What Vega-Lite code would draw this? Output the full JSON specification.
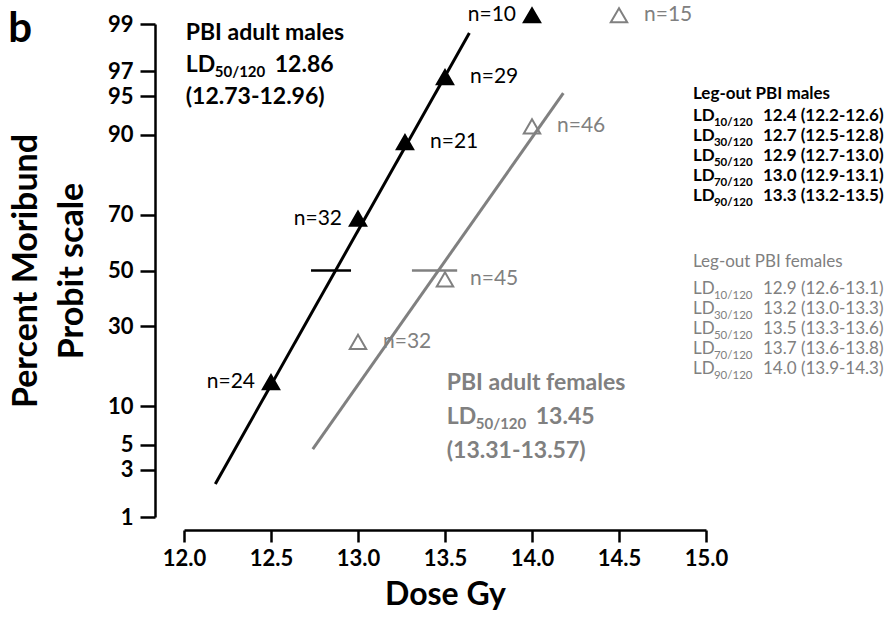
{
  "$schema": "https://vega.github.io/schema/vega-lite/v6.json",
  "width": 522,
  "height": 493,
  "autosize": {"type": "none"},
  "padding": {"left": 184, "top": 24, "right": 186, "bottom": 101},
  "background": "white",
  "config": {"view": {"stroke": null}, "font": "Lato"},
  "datasets": {
    "panel": [
      {"dose": 10.99, "pct": 98.45, "text": "b"}
    ],
    "points": [
      {"group": "male", "dose": 12.5, "pct": 14.6, "label": "n=24", "side": "left"},
      {"group": "male", "dose": 13.0, "pct": 68.75, "label": "n=32", "side": "left"},
      {"group": "male", "dose": 13.27, "pct": 88.7, "label": "n=21", "side": "right"},
      {"group": "male", "dose": 13.5, "pct": 96.6, "label": "n=29", "side": "right"},
      {"group": "male", "dose": 14.0, "pct": 99.2, "label": "n=10", "side": "left"},
      {"group": "female", "dose": 13.0, "pct": 25, "label": "n=32", "side": "right"},
      {"group": "female", "dose": 13.5, "pct": 46.7, "label": "n=45", "side": "right"},
      {"group": "female", "dose": 14.0, "pct": 91.3, "label": "n=46", "side": "right"},
      {"group": "female", "dose": 14.5, "pct": 99.2, "label": "n=15", "side": "right"}
    ],
    "fits": [
      {"group": "male", "dose": 12.18, "pct": 2.2},
      {"group": "male", "dose": 13.64, "pct": 98.75},
      {"group": "female", "dose": 12.74, "pct": 4.6},
      {"group": "female", "dose": 14.18, "pct": 95.3}
    ],
    "ci": [
      {"group": "male", "dose": 12.73, "dose2": 12.96, "pct": 50},
      {"group": "female", "dose": 13.31, "dose2": 13.57, "pct": 50}
    ],
    "plotNotes": [
      {"group": "male", "dose": 12.01, "pct": 98.52, "text": "PBI adult males"},
      {"group": "male", "dose": 12.01, "pct": 94.19, "text": "(12.73-12.96)"},
      {"group": "female", "dose": 13.51, "pct": 12.97, "text": "PBI adult females"},
      {"group": "female", "dose": 13.51, "pct": 3.84, "text": "(13.31-13.57)"}
    ],
    "plotLD": [
      {"group": "male", "dose": 12.01, "pct": 96.95, "lead": "LD", "sub": "50/120", "val": "12.86"},
      {"group": "female", "dose": 13.51, "pct": 7.37, "lead": "LD", "sub": "50/120", "val": "13.45"}
    ],
    "legendNotes": [
      {"group": "male", "dose": 14.925, "pct": 94.72, "text": "Leg-out PBI males"},
      {"group": "female", "dose": 14.925, "pct": 51.32, "text": "Leg-out PBI females"}
    ],
    "legendLD": [
      {"group": "male", "dose": 14.925, "pct": 92.09, "lead": "LD", "sub": "10/120", "val": "12.4 (12.2-12.6)"},
      {"group": "male", "dose": 14.925, "pct": 88.92, "lead": "LD", "sub": "30/120", "val": "12.7 (12.5-12.8)"},
      {"group": "male", "dose": 14.925, "pct": 84.93, "lead": "LD", "sub": "50/120", "val": "12.9 (12.7-13.0)"},
      {"group": "male", "dose": 14.925, "pct": 80.09, "lead": "LD", "sub": "70/120", "val": "13.0 (12.9-13.1)"},
      {"group": "male", "dose": 14.925, "pct": 74.41, "lead": "LD", "sub": "90/120", "val": "13.3 (13.2-13.5)"},
      {"group": "female", "dose": 14.925, "pct": 41.22, "lead": "LD", "sub": "10/120", "val": "12.9 (12.6-13.1)"},
      {"group": "female", "dose": 14.925, "pct": 34.07, "lead": "LD", "sub": "30/120", "val": "13.2 (13.0-13.3)"},
      {"group": "female", "dose": 14.925, "pct": 27.45, "lead": "LD", "sub": "50/120", "val": "13.5 (13.3-13.6)"},
      {"group": "female", "dose": 14.925, "pct": 21.53, "lead": "LD", "sub": "70/120", "val": "13.7 (13.6-13.8)"},
      {"group": "female", "dose": 14.925, "pct": 16.43, "lead": "LD", "sub": "90/120", "val": "14.0 (13.9-14.3)"}
    ]
  },
  "encoding": {
    "x": {
      "field": "dose", "type": "quantitative",
      "scale": {"domain": [12, 15], "nice": false, "zero": false},
      "axis": {
        "values": [12, 12.5, 13, 13.5, 14, 14.5, 15], "format": ".1f", "offset": 13, "grid": false,
        "tickSize": 12, "tickWidth": 2.5, "tickColor": "black", "domainWidth": 2.5, "domainColor": "black",
        "labelFont": "Lato", "labelFontSize": 22, "labelFontWeight": "bold", "labelColor": "black", "labelPadding": 6,
        "labelFlush": false, "labelOverlap": false,
        "title": "Dose Gy", "titleFont": "Lato", "titleFontSize": 32, "titleFontWeight": "bold", "titleColor": "black", "titlePadding": 10
      }
    },
    "y": {
      "field": "probit", "type": "quantitative",
      "scale": {"domain": [-2.3263479, 2.3263479], "nice": false, "zero": false},
      "axis": {
        "values": [-2.3263479, -1.8807936, -1.6448536, -1.2815516, -0.5244005, 0, 0.5244005, 1.2815516, 1.6448536, 1.8807936, 2.3263479],
        "labelExpr": "'' + round(cumulativeNormal(datum.value) * 100)",
        "offset": 29, "grid": false,
        "tickSize": 15, "tickWidth": 2.5, "tickColor": "black", "domainWidth": 2.5, "domainColor": "black",
        "labelFont": "Lato", "labelFontSize": 22, "labelFontWeight": "bold", "labelColor": "black", "labelPadding": 7,
        "labelFlush": false, "labelOverlap": false,
        "title": ["Percent Moribund", "Probit scale"], "titleFont": "Lato", "titleFontSize": 34, "titleFontWeight": "bold", "titleColor": "black", "titlePadding": 18, "titleLineHeight": 46
      }
    },
    "color": {"field": "group", "type": "nominal", "scale": {"domain": ["male", "female"], "range": ["#000000", "#808080"]}, "legend": null}
  },
  "layer": [
    {
      "data": {"name": "panel"},
      "transform": [{"calculate": "quantileNormal(datum.pct / 100)", "as": "probit"}],
      "mark": {"type": "text", "align": "left", "baseline": "alphabetic", "fontSize": 42, "fontWeight": "bold", "font": "Lato"},
      "encoding": {"text": {"field": "text"}, "color": {"value": "black"}}
    },
    {
      "data": {"name": "fits"},
      "transform": [{"calculate": "quantileNormal(datum.pct / 100)", "as": "probit"}],
      "mark": {"type": "line", "strokeWidth": 3},
      "encoding": {"detail": {"field": "group"}}
    },
    {
      "data": {"name": "ci"},
      "transform": [{"calculate": "quantileNormal(datum.pct / 100)", "as": "probit"}],
      "mark": {"type": "rule", "strokeWidth": 2.5},
      "encoding": {"x2": {"field": "dose2"}}
    },
    {
      "data": {"name": "points"},
      "transform": [{"calculate": "quantileNormal(datum.pct / 100)", "as": "probit"}],
      "mark": {"type": "point", "shape": "triangle-up", "filled": true, "size": 270, "strokeWidth": 2, "opacity": 1},
      "encoding": {
        "fill": {"field": "group", "type": "nominal", "scale": {"domain": ["male", "female"], "range": ["#000000", "transparent"]}, "legend": null},
        "stroke": {"field": "group", "type": "nominal", "scale": {"domain": ["male", "female"], "range": ["#000000", "#808080"]}, "legend": null}
      }
    },
    {
      "data": {"name": "points"},
      "transform": [{"calculate": "quantileNormal(datum.pct / 100)", "as": "probit"}, {"filter": "datum.side === 'left'"}],
      "mark": {"type": "text", "align": "right", "baseline": "middle", "dx": -16, "fontSize": 21, "font": "Lato"},
      "encoding": {"text": {"field": "label"}}
    },
    {
      "data": {"name": "points"},
      "transform": [{"calculate": "quantileNormal(datum.pct / 100)", "as": "probit"}, {"filter": "datum.side === 'right'"}],
      "mark": {"type": "text", "align": "left", "baseline": "middle", "dx": 25, "fontSize": 21, "font": "Lato"},
      "encoding": {"text": {"field": "label"}}
    },
    {
      "data": {"name": "plotNotes"},
      "transform": [{"calculate": "quantileNormal(datum.pct / 100)", "as": "probit"}],
      "mark": {"type": "text", "align": "left", "baseline": "alphabetic", "fontSize": 23, "fontWeight": "bold", "font": "Lato"},
      "encoding": {"text": {"field": "text"}}
    },
    {
      "data": {"name": "plotLD"},
      "transform": [{"calculate": "quantileNormal(datum.pct / 100)", "as": "probit"}],
      "mark": {"type": "text", "align": "left", "baseline": "alphabetic", "fontSize": 23, "fontWeight": "bold", "font": "Lato"},
      "encoding": {"text": {"field": "lead"}}
    },
    {
      "data": {"name": "plotLD"},
      "transform": [{"calculate": "quantileNormal(datum.pct / 100)", "as": "probit"}],
      "mark": {"type": "text", "align": "left", "baseline": "alphabetic", "dx": 29, "dy": 5, "fontSize": 15, "fontWeight": "bold", "font": "Lato"},
      "encoding": {"text": {"field": "sub"}}
    },
    {
      "data": {"name": "plotLD"},
      "transform": [{"calculate": "quantileNormal(datum.pct / 100)", "as": "probit"}],
      "mark": {"type": "text", "align": "left", "baseline": "alphabetic", "dx": 89, "fontSize": 23, "fontWeight": "bold", "font": "Lato"},
      "encoding": {"text": {"field": "val"}}
    },
    {
      "data": {"name": "legendNotes"},
      "transform": [{"calculate": "quantileNormal(datum.pct / 100)", "as": "probit"}],
      "mark": {"type": "text", "align": "left", "baseline": "alphabetic", "fontSize": 17, "font": "Lato", "fontWeight": {"expr": "datum.group === 'male' ? 'bold' : 'normal'"}},
      "encoding": {"text": {"field": "text"}}
    },
    {
      "data": {"name": "legendLD"},
      "transform": [{"calculate": "quantileNormal(datum.pct / 100)", "as": "probit"}],
      "mark": {"type": "text", "align": "left", "baseline": "alphabetic", "fontSize": 17, "font": "Lato", "fontWeight": {"expr": "datum.group === 'male' ? 'bold' : 'normal'"}},
      "encoding": {"text": {"field": "lead"}}
    },
    {
      "data": {"name": "legendLD"},
      "transform": [{"calculate": "quantileNormal(datum.pct / 100)", "as": "probit"}],
      "mark": {"type": "text", "align": "left", "baseline": "alphabetic", "dx": 21, "dy": 5, "fontSize": 11.5, "font": "Lato", "fontWeight": {"expr": "datum.group === 'male' ? 'bold' : 'normal'"}},
      "encoding": {"text": {"field": "sub"}}
    },
    {
      "data": {"name": "legendLD"},
      "transform": [{"calculate": "quantileNormal(datum.pct / 100)", "as": "probit"}],
      "mark": {"type": "text", "align": "left", "baseline": "alphabetic", "dx": 70, "fontSize": 17, "font": "Lato", "fontWeight": {"expr": "datum.group === 'male' ? 'bold' : 'normal'"}},
      "encoding": {"text": {"field": "val"}}
    }
  ]
}
